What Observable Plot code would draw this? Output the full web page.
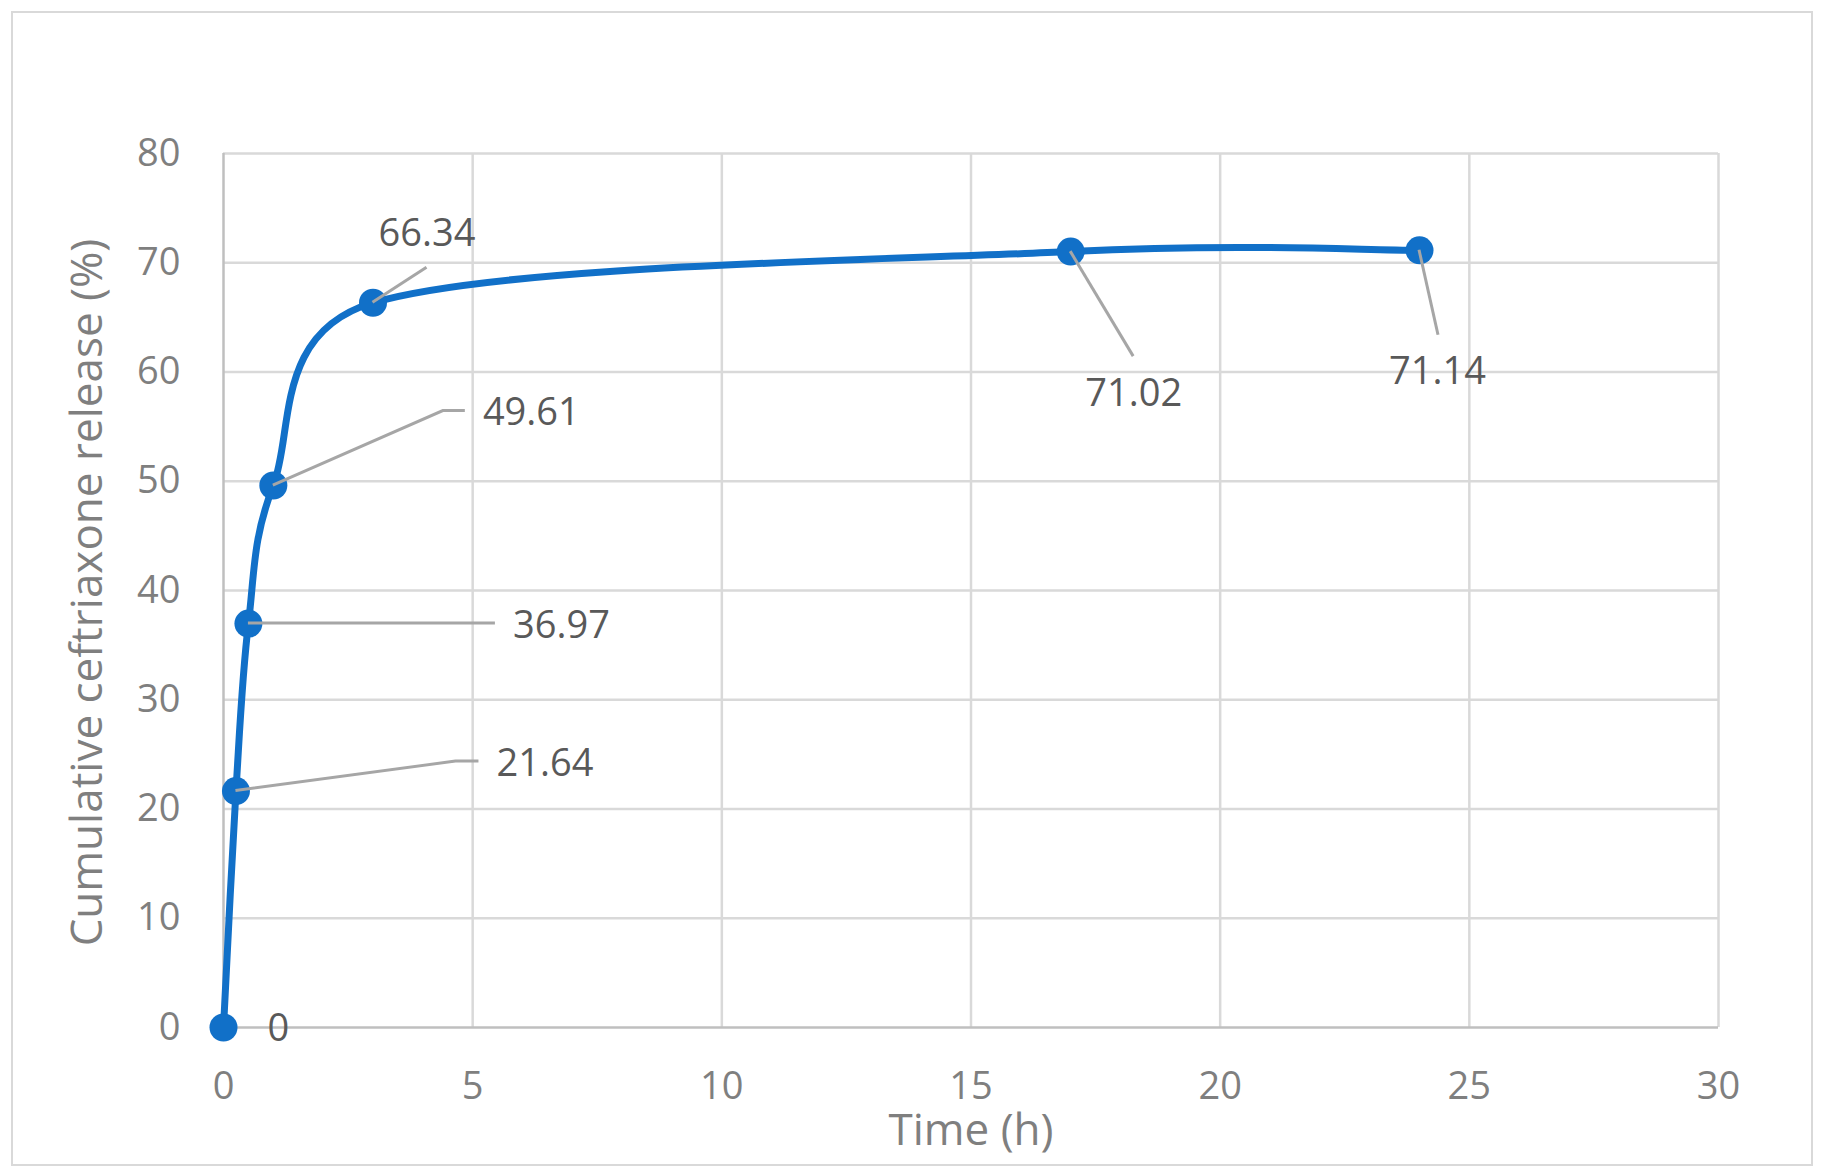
<!DOCTYPE html>
<html>
<head>
<meta charset="utf-8">
<script src="https://cdn.jsdelivr.net/npm/d3@7"></script>
<script src="https://cdn.jsdelivr.net/npm/@observablehq/plot@0.6"></script>
<style>
  html, body { margin: 0; padding: 0; background: #fff; }
  #wrap { position: relative; width: 1824px; height: 1176px; }
  #border { position: absolute; left: 11px; top: 11px; width: 1798px; height: 1151px;
            border: 2.5px solid #d9d9d9; box-sizing: content-box; pointer-events: none; }
  #chart { position: absolute; left: 0; top: 0; }
</style>
</head>
<body>
<div id="wrap"><div id="chart"></div><div id="border"></div></div>
<script>
// ---- data ----
const times = [0, 0.25, 0.5, 1, 3, 17, 24];
const release = [0, 21.64, 36.97, 49.61, 66.34, 71.02, 71.14];
const valueLabels = ["0", "21.64", "36.97", "49.61", "66.34", "71.02", "71.14"];
const xTicks = [0, 5, 10, 15, 20, 25, 30];
const yTicks = [0, 10, 20, 30, 40, 50, 60, 70, 80];
const xTitle = "Time (h)";
const yTitle = "Cumulative ceftriaxone release (%)";

// ---- label layout (pixel offsets from each point) ----
const labelDx = [44, 309, 313, 258, 54, 63, 18];
const labelDy = [1, -27.5, 2, -72.5, -69, 142, 122];
const labelAnchor = ["start", "middle", "middle", "middle", "middle", "middle", "middle"];
// leader polylines: list of [dx, dy] vertices after the point (null = none)
const leaders = [
  null,
  [[220, -29.5], [243, -29.5]],
  [[247, 0]],
  [[170, -74.5], [192, -74.5]],
  [[54, -35]],
  [[63, 105]],
  [[19, 85]]
];

const rows = times.map((t, i) => ({t, v: release[i], label: valueLabels[i], i}));

const FONT = "'Open Sans', 'Noto Sans', sans-serif";
const BLUE = "#1170c8";

// spreadsheet-style smoothed line: Bezier segments, tangents (P2-P0)/6 capped at half the segment length
function SmoothCurve(context) { this._context = context; }
SmoothCurve.prototype = {
  areaStart() {}, areaEnd() {},
  lineStart() { this._pts = []; },
  point(x, y) { this._pts.push([+x, +y]); },
  lineEnd() {
    const p = this._pts, n = p.length, c = this._context;
    if (!n) return;
    c.moveTo(p[0][0], p[0][1]);
    if (n === 1) return;
    const dist = (a, b) => Math.hypot(b[0] - a[0], b[1] - a[1]);
    const f = 1 / 6;
    for (let i = 0; i < n - 1; i++) {
      const P0 = p[i - 1] || p[i], P1 = p[i], P2 = p[i + 1], P3 = p[i + 2] || p[i + 1];
      const d12 = dist(P1, P2), d02 = dist(P0, P2), d13 = dist(P1, P3);
      const k1 = (d02 * f >= d12 / 2 && d02 > 0) ? (d12 / 2) / d02 : f;
      const k2 = (d13 * f >= d12 / 2 && d13 > 0) ? (d12 / 2) / d13 : f;
      const c1 = [P1[0] + k1 * (P2[0] - P0[0]), P1[1] + k1 * (P2[1] - P0[1])];
      const c2 = [P2[0] - k2 * (P3[0] - P1[0]), P2[1] - k2 * (P3[1] - P1[1])];
      c.bezierCurveTo(c1[0], c1[1], c2[0], c2[1], P2[0], P2[1]);
    }
  }
};
const curveSmooth = context => new SmoothCurve(context);

const chart = Plot.plot({
  width: 1824,
  height: 1176,
  marginLeft: 223,
  marginRight: 106,
  marginTop: 153,
  marginBottom: 149,
  style: {fontFamily: FONT, background: "transparent", overflow: "visible"},
  x: {domain: [0, 30]},
  y: {domain: [0, 80]},
  marks: [
    Plot.ruleX(xTicks.slice(1), {stroke: "#d9d9d9", strokeWidth: 2.5}),
    Plot.ruleY(yTicks.slice(1), {stroke: "#d9d9d9", strokeWidth: 2.5}),
    Plot.ruleX([0], {stroke: "#bfbfbf", strokeWidth: 2.5}),
    Plot.ruleY([0], {stroke: "#bfbfbf", strokeWidth: 2.5}),
    Plot.axisX({ticks: xTicks, tickSize: 0, tickPadding: 45, fontSize: 38, fill: "#7f7f7f", label: null, tickFormat: d => String(d)}),
    Plot.axisY({ticks: yTicks, tickSize: 0, tickPadding: 43, fontSize: 38, fill: "#7f7f7f", label: null, tickFormat: d => String(d)}),
    Plot.line(rows, {x: "t", y: "v", curve: curveSmooth, stroke: BLUE, strokeWidth: 7}),
    Plot.dot(rows, {x: "t", y: "v", r: 14, fill: BLUE, stroke: "none"}),
    Plot.text([xTitle], {frameAnchor: "bottom", dy: 103, text: d => d, fontSize: 44, fill: "#7f7f7f", textAnchor: "middle", lineAnchor: "middle"}),
    Plot.text([yTitle], {frameAnchor: "left", dx: -136, dy: 2, rotate: -90, text: d => d, fontSize: 44, fill: "#7f7f7f", textAnchor: "middle", lineAnchor: "middle"}),
    ...rows.map((r, i) => Plot.text([r], {x: "t", y: "v", text: "label", dx: labelDx[i], dy: labelDy[i],
      textAnchor: labelAnchor[i], lineAnchor: "middle", fontSize: 38, fill: "#595959"}))
  ]
});

document.getElementById("chart").appendChild(chart);

// leader lines drawn with the plot's own scales, on top of markers, beneath labels
const sx = chart.scale("x"), sy = chart.scale("y");
const svg = d3.select(chart.tagName.toLowerCase() === "svg" ? chart : chart.querySelector("svg"));
const g = svg.insert("g", function() {
  const kids = Array.from(this.children);
  return kids[kids.length - rows.length];
});
rows.forEach((r, i) => {
  if (!leaders[i]) return;
  const px = sx.apply(r.t), py = sy.apply(r.v);
  const pts = [[px, py], ...leaders[i].map(([dx, dy]) => [px + dx, py + dy])];
  g.append("path")
    .attr("d", d3.line()(pts))
    .attr("fill", "none")
    .attr("stroke", "#a6a6a6")
    .attr("stroke-width", 3);
});
</script>
</body>
</html>
